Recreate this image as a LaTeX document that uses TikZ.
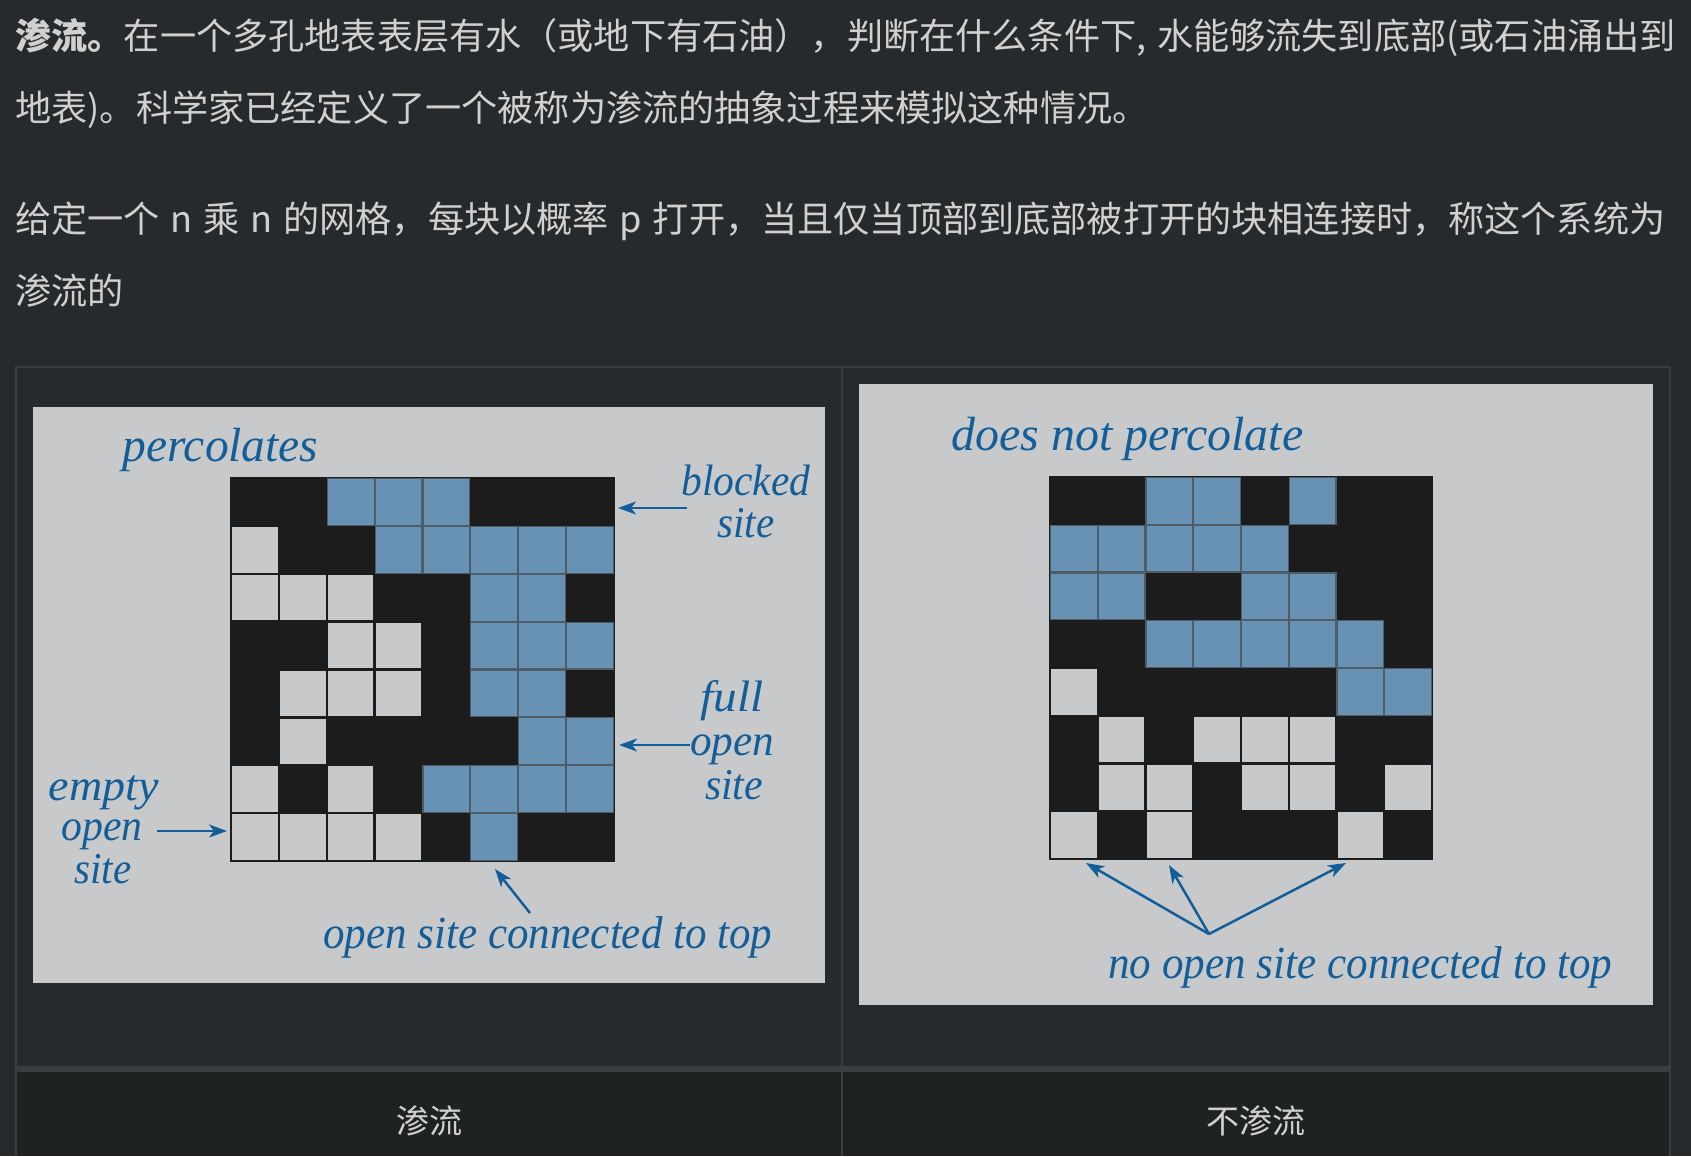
\documentclass[tikz,border=0pt]{standalone}
\usepackage{fontspec}
\usepackage{graphicx}
\usetikzlibrary{arrows.meta}
\newfontfamily\cjk{Noto Sans CJK SC}
\newfontfamily\lblfont{Liberation Serif}
\definecolor{pagebg}{HTML}{272A2C}
\definecolor{rulec}{HTML}{3A3E41}
\definecolor{footbg}{HTML}{1F2223}
\definecolor{txt}{HTML}{D0D0D0}
\definecolor{panel}{HTML}{C8C9CB}
\definecolor{blk}{HTML}{1C1C1C}
\definecolor{fullc}{HTML}{6792B4}
\definecolor{fulledge}{HTML}{4E5C67}
\definecolor{lab}{HTML}{135E98}
\newcommand{\lbw}[2]{\resizebox{#1pt}{\height}{#2}}
\newcommand{\wsp}{\hspace{5.4pt}}
\newcommand{\pgrid}[4]{%
  \fill[blk] ({#1-0.8},{#2-0.8}) rectangle ({#1+8*#3+0.8},{#2+8*#3+0.8});
  \foreach \row [count=\r from 0] in {#4} {
    \foreach \v [count=\c from 0] in \row {
      \ifnum\v=1\relax
        \fill[panel] ({#1+\c*#3+1.2},{#2+\r*#3+1.2}) rectangle ++({#3-2.4},{#3-2.4});
      \fi
      \ifnum\v=2\relax
        \filldraw[fill=fullc,draw=fulledge,line width=0.6pt] ({#1+\c*#3+0.5},{#2+\r*#3+0.5}) rectangle ++({#3-1},{#3-1});
      \fi
    }
  }%
}
\tikzset{
  toptext/.style={anchor=west, inner sep=0, text=txt, text height=0.88em, text depth=0.12em, font=\cjk\fontsize{18.08pt}{18pt}\selectfont},
  foottext/.style={anchor=center, inner sep=0, text=txt, text height=0.88em, text depth=0.12em, font=\cjk\fontsize{16.5pt}{16.5pt}\selectfont},
  lbl/.style={text=lab, inner sep=0, font=\lblfont\fontsize{22pt}{22pt}\selectfont\itshape},
  captext/.style={text=lab, inner sep=0, font=\lblfont\fontsize{23pt}{23pt}\selectfont\itshape},
  ttl/.style={text=lab, inner sep=0, font=\lblfont\fontsize{24pt}{24pt}\selectfont\itshape},
  arr/.style={draw=lab, line width=1.25pt, -{Stealth[length=9pt,width=6.5pt,inset=2.5pt]}}
}
\begin{document}
\begin{tikzpicture}[x=0.5pt,y=-0.5pt]
\useasboundingbox (0,0) rectangle (1691,1156);
\fill[pagebg] (0,0) rectangle (1691,1156);
% table
\fill[footbg] (17,1072) rectangle (1669,1156);
\fill[rulec] (15,366) rectangle (1671,368);
\fill[rulec] (15,366) rectangle (17,1156);
\fill[rulec] (841,366) rectangle (843,1156);
\fill[rulec] (1669,366) rectangle (1671,1156);
\fill[rulec] (15,1066) rectangle (1671,1072);
% top text
\node[toptext] (l1) at (15,41.5) {{\bfseries 渗流。}在一个多孔地表表层有水（或地下有石油），判断在什么条件下,\wsp 水能够流失到底部(或石油涌出到};
\node[toptext] (l2) at (15,113.5) {地表)。科学家已经定义了一个被称为渗流的抽象过程来模拟这种情况。};
\node[toptext] (l3) at (15,224.5) {给定一个\wsp n\wsp 乘\wsp n\wsp 的网格，每块以概率\wsp p\wsp 打开，当且仅当顶部到底部被打开的块相连接时，称这个系统为};
\node[toptext] (l4) at (15,296.5) {渗流的};
% footer
\node[foottext] (f1) at (429,1126) {渗流};
\node[foottext] (f2) at (1256,1126) {不渗流};
% panels
\fill[panel] (33,407) rectangle (825,983);
\fill[panel] (859,384) rectangle (1653,1005);
% left grid
\pgrid{231}{478}{47.875}{{0,0,2,2,2,0,0,0},{1,0,0,2,2,2,2,2},{1,1,1,0,0,2,2,0},{0,0,1,1,0,2,2,2},{0,1,1,1,0,2,2,0},{0,1,0,0,0,0,2,2},{1,0,1,0,2,2,2,2},{1,1,1,1,0,2,0,0}}
% right grid
\pgrid{1050}{477}{47.75}{{0,0,2,2,0,2,0,0},{2,2,2,2,2,0,0,0},{2,2,0,0,2,2,0,0},{0,0,2,2,2,2,2,0},{1,0,0,0,0,0,2,2},{0,1,0,1,1,1,0,0},{0,1,1,0,1,1,0,1},{1,0,1,0,0,0,1,0}}
% left labels
\node[ttl, anchor=base west] (perc) at (122,461) {\lbw{98}{percolates}};
\node[lbl, anchor=base] (bl1) at (746,495) {\lbw{64.5}{blocked}};
\node[lbl, anchor=base] (bl2) at (746,537) {\lbw{28.5}{site}};
\node[lbl, anchor=base] (fu1) at (732,711) {\lbw{31.5}{full}};
\node[lbl, anchor=base] (fu2) at (732,755) {\lbw{42}{open}};
\node[lbl, anchor=base] (fu3) at (734,799) {\lbw{29}{site}};
\node[lbl, anchor=base] (em1) at (104,800) {\lbw{55}{empty}};
\node[lbl, anchor=base] (em2) at (102,840) {\lbw{40.5}{open}};
\node[lbl, anchor=base] (em3) at (103,883) {\lbw{28.5}{site}};
\node[captext, anchor=base west] (conn) at (323,948) {\lbw{224.5}{open site connected to top}};
% right labels
\node[ttl, anchor=base west] (dnp) at (951,450) {\lbw{176}{does not percolate}};
\node[captext, anchor=base west] (noconn) at (1108,978) {\lbw{252}{no open site connected to top}};
% arrow coordinates
\coordinate (blA) at (687,508); \coordinate (blB) at (618,508);
\coordinate (fuA) at (690,745); \coordinate (fuB) at (619,745);
\coordinate (emA) at (157,831); \coordinate (emB) at (227,831);
\coordinate (coA) at (530,913); \coordinate (coB) at (495,869);
\coordinate (apex) at (1209,934);
\coordinate (t1) at (1086,863); \coordinate (t2) at (1169,865); \coordinate (t3) at (1346,863);
\draw[arr] (blA) -- (blB);
\draw[arr] (fuA) -- (fuB);
\draw[arr] (emA) -- (emB);
\draw[arr] (coA) -- (coB);
\draw[arr] (apex) -- (t1);
\draw[arr] (apex) -- (t2);
\draw[arr] (apex) -- (t3);
\end{tikzpicture}
\end{document}
